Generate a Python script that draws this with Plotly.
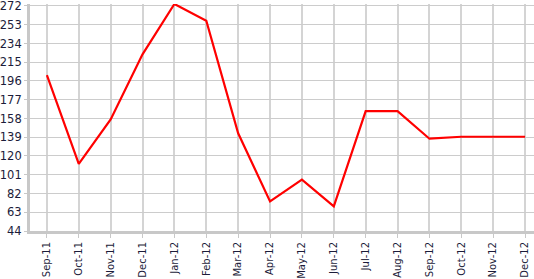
import plotly.graph_objects as go

months = ["Sep-11", "Oct-11", "Nov-11", "Dec-11", "Jan-12", "Feb-12", "Mar-12", "Apr-12",
          "May-12", "Jun-12", "Jul-12", "Aug-12", "Sep-12", "Oct-12", "Nov-12", "Dec-12"]
values = [202, 112, 157, 223, 274, 257, 143, 74, 96, 69, 165.5, 165.5, 137.5, 139.5, 139.5, 139.5]
y_ticks = [44, 63, 82, 101, 120, 139, 158, 177, 196, 215, 234, 253, 272]

fig = go.Figure()
fig.add_trace(go.Scatter(x=list(range(len(months))), y=values, mode="lines",
                         line=dict(color="#ff0000", width=2.2), cliponaxis=False))

fam = "DejaVu Sans, Tahoma, Verdana"
col = "#1c1c3a"
fig.update_layout(
    width=534, height=279,
    margin=dict(l=30, r=0, t=4, b=39),
    paper_bgcolor="white", plot_bgcolor="white",
    showlegend=False,
    xaxis=dict(
        range=[-0.53, 15.28],
        tickmode="array", tickvals=list(range(len(months))), ticktext=months,
        tickangle=-90, tickfont=dict(family=fam, size=10, color=col),
        showgrid=True, gridcolor="#d4d4d4", gridwidth=1.5,
        showline=True, linecolor="#c8c8c8", linewidth=3,
        ticks="outside", ticklen=4, tickcolor="#c8c8c8", tickwidth=1,
        zeroline=False,
    ),
    yaxis=dict(
        range=[44, 274],
        tickmode="array", tickvals=y_ticks,
        tickfont=dict(family=fam, size=11.5, color=col),
        ticklabeloverflow="allow", ticklabelstandoff=0,
        showgrid=True, gridcolor="#cccccc", gridwidth=1,
        showline=True, linecolor="#c8c8c8", linewidth=3,
        ticks="outside", ticklen=3, tickcolor="#c8c8c8", tickwidth=1,
        zeroline=False, automargin=False,
    ),
)
fig.write_html("out.html")
